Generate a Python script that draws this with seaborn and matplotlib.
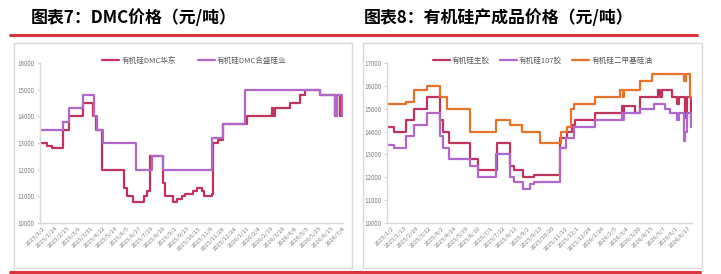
import matplotlib
matplotlib.use('Agg')
import matplotlib.pyplot as plt
from matplotlib.lines import Line2D
from matplotlib.patches import Rectangle
import seaborn as sns

# ---- data (x in tick-label units, step change points) ----
dmc_labels = ['2025/1/2', '2025/1/24', '2025/2/15', '2025/3/9', '2025/3/31', '2025/4/22',
              '2025/5/14', '2025/6/5', '2025/6/27', '2025/7/19', '2025/8/10', '2025/9/1',
              '2025/9/23', '2025/10/15', '2025/11/6', '2025/11/28', '2025/12/24', '2026/1/11',
              '2026/2/4', '2026/2/19', '2026/3/18', '2026/4/8', '2026/5/5', '2026/5/25',
              '2026/6/15', '2026/7/4']

huadong_x = [-0.25, 0.31, 0.72, 1.69, 2.19, 3.31, 4.19, 4.42, 4.89, 6.75, 7.03, 7.47, 8.42,
             8.64, 8.92, 9.97, 10.17, 10.81, 11.14, 11.56, 11.83, 12.53, 12.86, 13.22, 13.42,
             14.06, 14.19, 14.61, 14.97, 16.97, 19.06, 19.19, 19.33, 20.58, 21.42, 21.83, 23.08,
             24.33, 24.47, 24.75, 24.97]
huadong_y = [13000, 12900, 12800, 13500, 14000, 14500, 14000, 13500, 12000, 11300, 11000, 10800,
             11000, 11200, 12500, 11500, 11000, 10800, 10900, 11000, 11100, 11200, 11300, 11200,
             11000, 11100, 13000, 13100, 13700, 14000, 14300, 14000, 14300, 14500, 14800, 15000,
             14800, 14000, 14800, 14000, 14000]

hoshine_x = [-0.25, 1.69, 2.19, 3.31, 4.25, 4.47, 4.97, 7.75, 9.06, 10.03, 14.06, 14.97, 16.83,
             23.08, 24.33, 24.47, 24.89, 24.97]
hoshine_y = [13500, 13800, 14300, 14800, 14000, 13500, 13000, 12000, 12500, 12000, 13200, 13700,
             15000, 14800, 14000, 14800, 14000, 14000]

prod_labels = ['2025/1/2', '2025/1/23', '2025/2/19', '2025/3/12', '2025/4/2', '2025/4/24',
               '2025/5/19', '2025/6/10', '2025/7/1', '2025/7/22', '2025/8/12', '2025/9/2',
               '2025/9/23', '2025/10/20', '2025/11/10', '2025/12/1', '2025/12/24', '2026/1/16',
               '2026/2/5', '2026/3/4', '2026/3/20', '2026/4/15', '2026/5/7', '2026/6/1',
               '2026/6/17']

rubber_x = [-0.40, 0.13, 1.16, 1.75, 2.83, 3.91, 4.12, 4.58, 6.33, 6.93, 8.49, 9.57, 9.89, 10.59,
            11.46, 13.61, 14.15, 14.56, 14.82, 16.44, 18.60, 18.68, 18.79, 19.68, 20.08, 21.56,
            21.70, 21.83, 22.64, 23.05, 23.18, 23.72, 23.85, 24.20, 24.26]
rubber_y = [14200, 14000, 14500, 15000, 15500, 14500, 14000, 13500, 12800, 12300, 13500, 12500,
            12300, 12000, 12100, 13700, 14000, 14300, 14500, 14800, 15100, 14800, 15100, 14800,
            15500, 15800, 15500, 15800, 15500, 15200, 15500, 14600, 15500, 14500, 14500]

glue107_x = [-0.40, 0.13, 1.16, 1.75, 2.83, 3.91, 4.12, 4.58, 6.33, 6.93, 8.44, 9.57, 9.84,
             10.57, 11.19, 11.46, 13.61, 14.10, 14.69, 16.44, 18.60, 18.68, 18.79, 20.08, 21.16,
             22.10, 22.51, 23.05, 23.18, 23.64, 23.72, 23.85, 24.20, 24.26]
glue107_y = [13400, 13300, 13800, 14300, 14800, 13800, 13300, 12800, 12500, 12000, 13000, 12000,
             11800, 11500, 11700, 11800, 13300, 13700, 14200, 14500, 14800, 14500, 14800, 15000,
             15200, 15000, 14800, 14500, 14800, 13600, 14000, 14800, 14200, 14200]

oil_x = [-0.40, 1.16, 1.75, 2.83, 3.91, 4.45, 6.33, 8.44, 9.57, 10.51, 11.99, 13.69, 14.15, 14.47,
         14.69, 16.44, 18.41, 18.68, 18.79, 20.08, 21.02, 23.64, 23.80, 24.12, 24.26]
oil_y = [15200, 15300, 15800, 16000, 15500, 15000, 14000, 14500, 14300, 14000, 13500, 14000,
         14200, 15000, 15200, 15500, 15800, 15500, 15800, 16200, 16500, 16200, 16500, 15500, 15500]

RED = '#C0345C'
PURPLE = '#B166C9'
ORANGE = '#E8712C'
GREY_TXT = '#7F7F7F'
GREY_LN = '#D9D9D9'

sns.set_theme(style='white')
plt.rcParams['font.family'] = ['Noto Sans CJK SC', 'DejaVu Sans']

W, H = 721, 274
fig = plt.figure(figsize=(W / 100, H / 100), dpi=100)


def fx(px):
    return px / W


def fy(py):
    return 1 - py / H


# frames and red rules
for x0, x1 in [(14, 352), (363, 702)]:
    fig.add_artist(Rectangle((fx(x0), fy(268)), fx(x1 - x0), (268 - 43) / H,
                             transform=fig.transFigure, fill=False, edgecolor=GREY_LN, lw=1))
fig.add_artist(Line2D([fx(10), fx(697)], [fy(34.5), fy(34.5)], color='#D9363E', lw=2.2))
fig.add_artist(Line2D([fx(10), fx(700)], [fy(271.5), fy(271.5)], color='#D9363E', lw=2.2))

fig.text(fx(31), fy(18), '图表7：DMC价格（元/吨）', fontsize=12.2, fontweight='bold',
         va='center', ha='left', color='black')
fig.text(fx(364), fy(18), '图表8：有机硅产成品价格（元/吨）', fontsize=12.2, fontweight='bold',
         va='center', ha='left', color='black')


def style_axes(ax, labels, ylim, yticks, xlim):
    ax.set_xlim(*xlim)
    ax.set_ylim(*ylim)
    ax.set_yticks(yticks)
    ax.set_yticklabels([str(v) for v in yticks], fontsize=4.5, color=GREY_TXT)
    ax.set_xticks(range(len(labels)))
    ax.set_xticklabels(labels, fontsize=4.3, color=GREY_TXT, rotation=45, ha='right',
                       rotation_mode='anchor')
    ax.tick_params(axis='x', length=0, pad=2)
    ax.tick_params(axis='y', length=2.5, width=0.8, color=GREY_LN, pad=1.5, left=True)
    for s in ['top', 'right']:
        ax.spines[s].set_visible(False)
    for s in ['left', 'bottom']:
        ax.spines[s].set_color(GREY_LN)
        ax.spines[s].set_linewidth(1)
    ax.set_xlabel('')
    ax.set_ylabel('')
    ax.grid(False)


# ---- left: DMC ----
ax1 = fig.add_axes([fx(40), fy(223), fx(303), 160 / H])
sns.lineplot(x=huadong_x, y=huadong_y, ax=ax1, color=RED, lw=1.6, drawstyle='steps-post',
             label='有机硅DMC华东')
sns.lineplot(x=hoshine_x, y=hoshine_y, ax=ax1, color=PURPLE, lw=1.6, drawstyle='steps-post',
             label='有机硅DMC合盛硅业')
style_axes(ax1, dmc_labels, (10000, 16000), list(range(10000, 16001, 1000)), (-0.25, 25.0))
ax1.legend(loc='center', bbox_to_anchor=(0.51, 1.015), ncol=2, frameon=False, fontsize=5.5,
           handlelength=2.2, handletextpad=0.3, columnspacing=2.9, labelcolor='#595959')

# ---- right: products ----
ax2 = fig.add_axes([fx(387), fy(223), fx(305), 160 / H])
sns.lineplot(x=rubber_x, y=rubber_y, ax=ax2, color=RED, lw=1.6, drawstyle='steps-post',
             label='有机硅生胶')
sns.lineplot(x=glue107_x, y=glue107_y, ax=ax2, color=PURPLE, lw=1.6, drawstyle='steps-post',
             label='有机硅107胶')
sns.lineplot(x=oil_x, y=oil_y, ax=ax2, color=ORANGE, lw=1.6, drawstyle='steps-post',
             label='有机硅二甲基硅油')
style_axes(ax2, prod_labels, (10000, 17000), list(range(10000, 17001, 1000)), (-0.40, 24.27))
ax2.legend(loc='center', bbox_to_anchor=(0.51, 1.015), ncol=3, frameon=False, fontsize=5.5,
           handlelength=2.2, handletextpad=0.3, columnspacing=1.3, labelcolor='#595959')

fig.savefig('out.png', dpi=100)
